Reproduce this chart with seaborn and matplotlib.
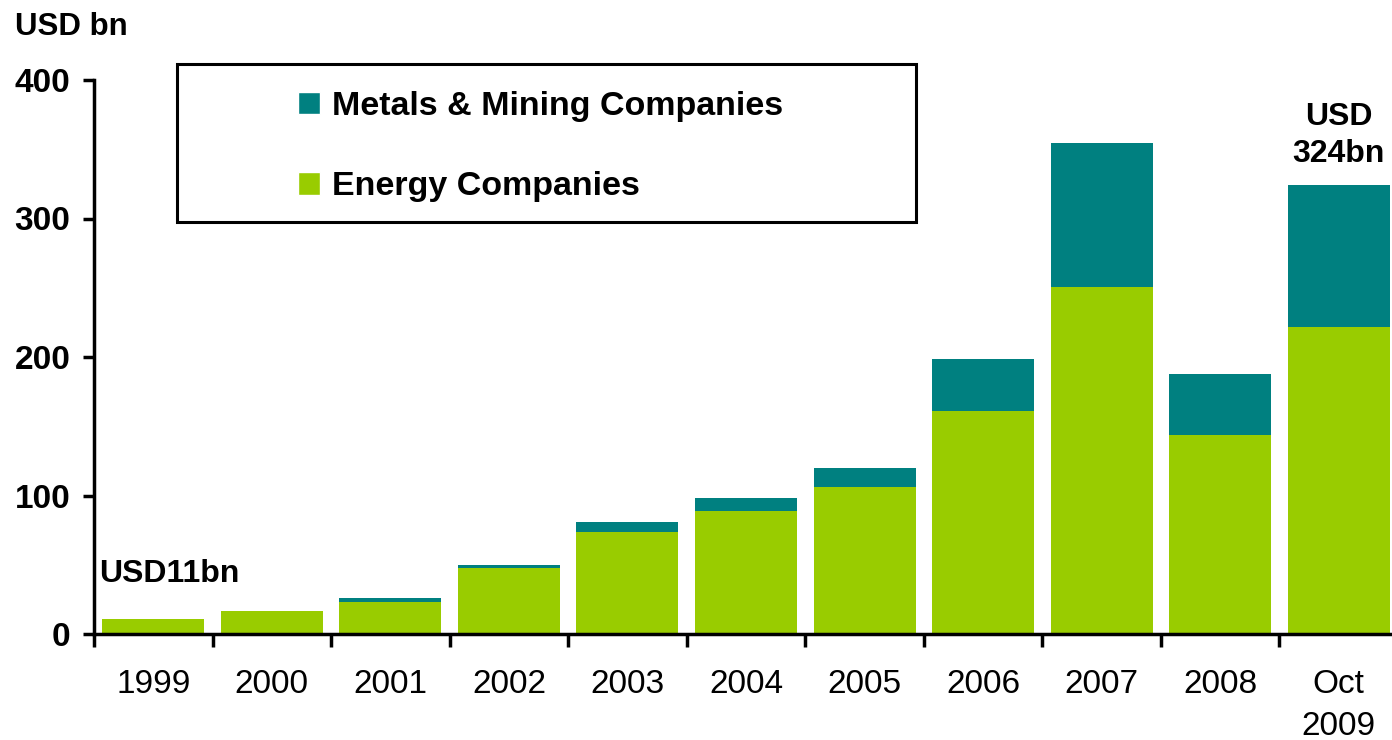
import matplotlib
matplotlib.use("Agg")
import matplotlib.pyplot as plt
import seaborn as sns
import pandas as pd
from matplotlib.patches import Rectangle, Patch

categories = ["1999", "2000", "2001", "2002", "2003", "2004", "2005", "2006", "2007", "2008", "Oct\n2009"]
energy = [10.5, 16.6, 23.3, 47.8, 73.8, 88.6, 106, 160.8, 250.9, 143.4, 222]
metals = [0, 0, 2.7, 2.0, 7.0, 9.5, 13.6, 37.4, 103.3, 44.2, 102]
total = [e + m for e, m in zip(energy, metals)]
yticks = [0, 100, 200, 300, 400]

GREEN = "#99CC00"
TEAL = "#008080"

sns.set_style("white")
plt.rcParams['font.family'] = ['Liberation Sans', 'DejaVu Sans']
plt.rcParams['text.color'] = 'black'
plt.rcParams['xtick.color'] = 'black'
plt.rcParams['ytick.color'] = 'black'

df = pd.DataFrame({"cat": categories, "energy": energy, "total": total})

fig = plt.figure(figsize=(13.92, 7.40), dpi=100)
ax = fig.add_axes([94/1392, 1-634/740, (1398-94)/1392, (634-80)/740])

sns.barplot(data=df, x="cat", y="total", color=TEAL, width=0.86, ax=ax,
            saturation=1, linewidth=0, order=categories)
sns.barplot(data=df, x="cat", y="energy", color=GREEN, width=0.86, ax=ax,
            saturation=1, linewidth=0, order=categories)

ax.set_xlim(-0.5, len(categories) - 0.5)
ax.set_ylim(0, 400)
ax.set_xlabel("")
ax.set_ylabel("")

for s in ["top", "right"]:
    ax.spines[s].set_visible(False)
for s in ["left", "bottom"]:
    ax.spines[s].set_linewidth(2.5)
    ax.spines[s].set_color("black")
ax.spines["bottom"].set_zorder(5)

ax.set_yticks(yticks)
ax.set_yticklabels([str(v) for v in yticks], fontsize=24, fontweight="bold")
ax.tick_params(axis="y", direction="out", length=8, width=2.5, pad=9, left=True, color="black")

# x: ticks at boundaries, labels at centers
n = len(categories)
ax.set_xticks([i - 0.5 for i in range(n + 1)])
ax.set_xticklabels([""] * (n + 1))
ax.set_xticks(list(range(n)), minor=True)
ax.set_xticklabels(categories, minor=True, fontsize=24, linespacing=1.45)
ax.tick_params(axis="x", which="major", direction="out", length=9, width=2.5, bottom=True, color="black")
ax.tick_params(axis="x", which="minor", length=0, pad=25)

# legend
ax.add_patch(Rectangle((177/1392, 1-222/740), (916-177)/1392, (222-64)/740,
                       transform=fig.transFigure, fill=False, edgecolor="black",
                       linewidth=2.2, zorder=10, clip_on=False))
handles = [Patch(facecolor=TEAL, label="Metals & Mining Companies"),
           Patch(facecolor=GREEN, label="Energy Companies")]
leg = fig.legend(handles=handles, loc="upper left", bbox_to_anchor=(298/1392, 1-91/740),
                 frameon=False, prop={"size": 24.5, "weight": "bold"},
                 handlelength=0.65, handleheight=0.65, handletextpad=0.35,
                 labelspacing=1.45, borderaxespad=0, borderpad=0)

fig.text(15/1392, 1-27/740, "USD bn", fontsize=22.5, fontweight="bold", va="center", ha="left")
ax.text(-0.46, 43, "USD11bn", fontsize=23, fontweight="bold", va="center", ha="left")
ax.text(10, 360, "USD\n324bn", fontsize=23, fontweight="bold", va="center", ha="center",
        linespacing=1.3)

fig.savefig("out.png", dpi=100)
